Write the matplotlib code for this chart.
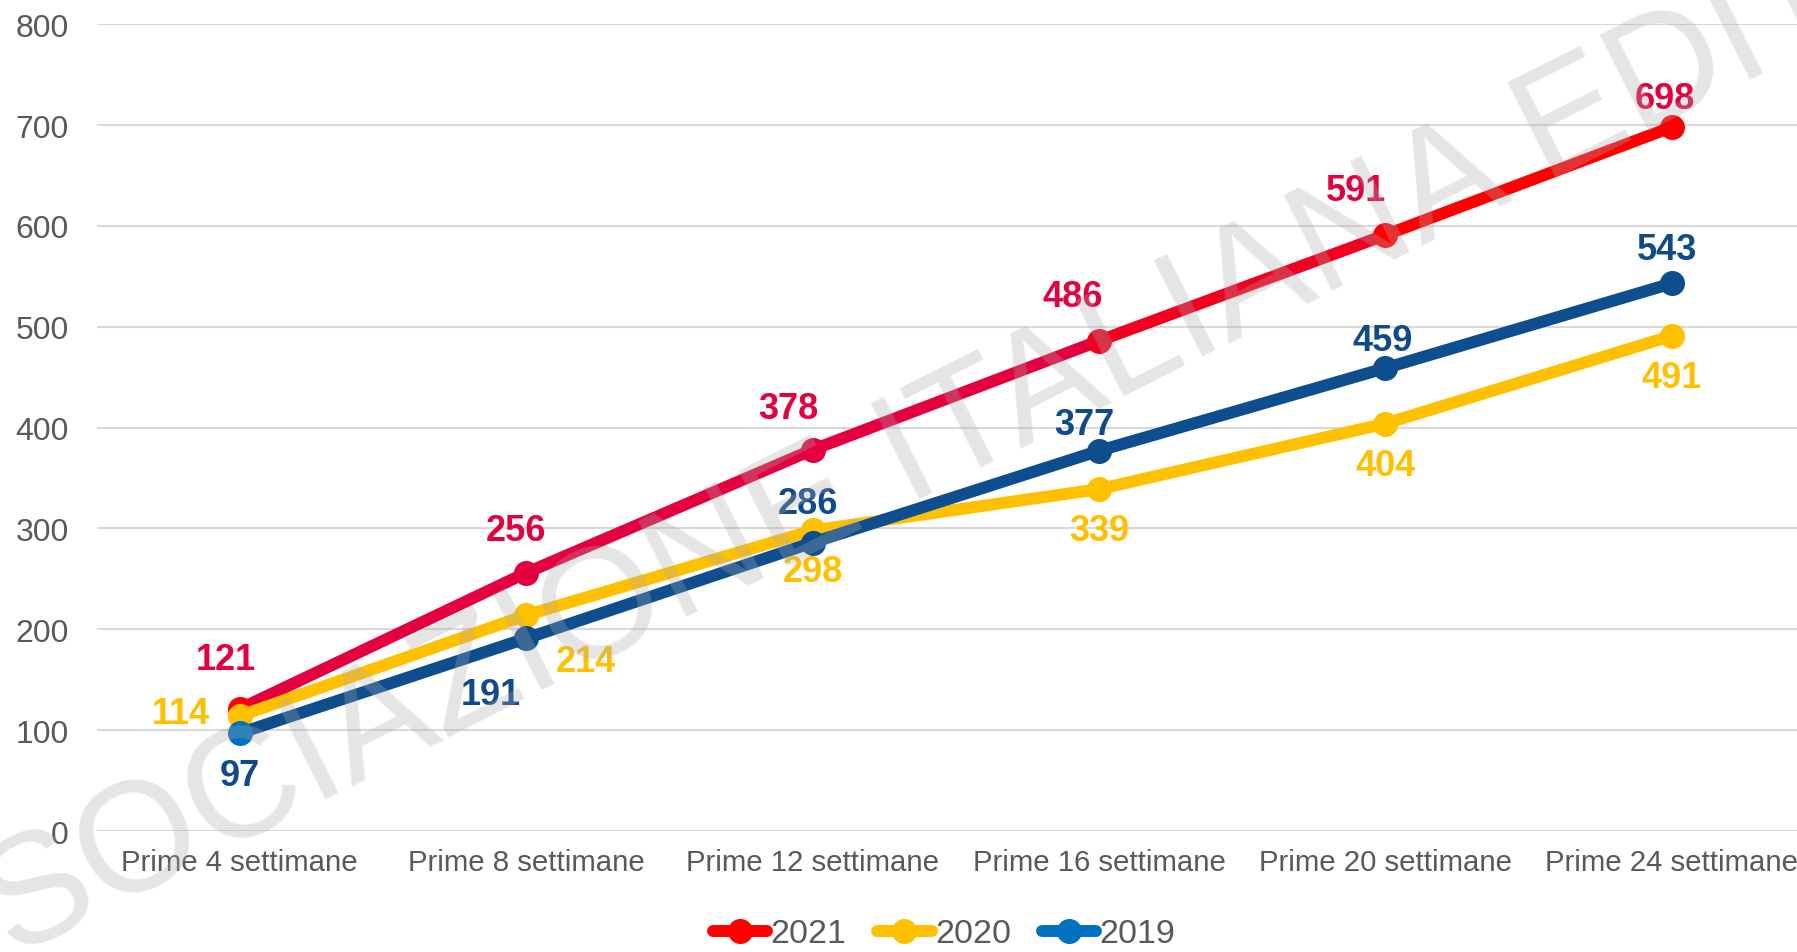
import matplotlib
matplotlib.use("Agg")
import matplotlib.pyplot as plt
from matplotlib.lines import Line2D
import numpy as np

plt.rcParams['font.family'] = ['Liberation Sans', 'DejaVu Sans']

categories = ["Prime 4 settimane", "Prime 8 settimane", "Prime 12 settimane",
              "Prime 16 settimane", "Prime 20 settimane", "Prime 24 settimane"]
series_names = ["2021", "2020", "2019"]
v2021 = [121, 256, 378, 486, 591, 698]
v2020 = [114, 214, 298, 339, 404, 491]
v2019 = [97, 191, 286, 377, 459, 543]

# label offsets (pixels measured on the shrunk reference, dx right, dy up)
off2021 = [(-12, 43), (-9, 37), (-21, 36), (-23, 39), (-26, 39), (-6, 25)]
off2020 = [(-51, 2), (52, -40), (0, -36), (0, -36), (0, -37), (0, -36)]
off2019 = [(0, -37), (-31, -49), (-4, 34), (-13, 23), (-2, 24), (-4, 30)]

# per-segment and per-marker colours (gradient look of the original)
seg2021 = ['#E4003F', '#E4003F', '#E4003F', '#F2001F', '#FF0000']
mk2021 = ['#FF0000', '#E4003F', '#E4003F', '#F0001F', '#FF0000', '#FF0000']
seg2020 = ['#FFC000'] * 5
mk2020 = ['#FFC000'] * 6
seg2019 = ['#0E4D8E'] * 5
mk2019 = ['#0070C0', '#0E4D8E', '#0E4D8E', '#0E4D8E', '#0E4D8E', '#0E4D8E']
lab_colors = ['#E4003F', '#FFC000', '#104A8A']
legend_colors = ['#FF0000', '#FFC000', '#0070C0']

W, H = 1797, 953
S = W / 1568
fig = plt.figure(figsize=(W / 100, H / 100), dpi=100)
ax = fig.add_axes([96.5 / W, 1 - 832 / H, (1815 - 96.5) / W, (832 - 25.2) / H])

x = np.arange(len(categories))
for vals, segs, mks, offs, lc, z in [
        (v2021, seg2021, mk2021, off2021, lab_colors[0], 3),
        (v2020, seg2020, mk2020, off2020, lab_colors[1], 4),
        (v2019, seg2019, mk2019, off2019, lab_colors[2], 5)]:
    for i in range(len(vals) - 1):
        ax.plot(x[i:i + 2], vals[i:i + 2], color=segs[i], lw=8.6,
                solid_capstyle='round', zorder=z)
    for i, v in enumerate(vals):
        ax.plot(x[i], v, 'o', color=mks[i], ms=17, zorder=z + 0.1)
        ax.annotate(str(v), (x[i], v), xytext=(offs[i][0] * S, offs[i][1] * S),
                    textcoords='offset pixels', ha='center', va='center',
                    fontsize=26, fontweight='bold', color=lc, zorder=10)

ax.set_xlim(-0.5, 5.5)
ax.set_ylim(0, 800)
ax.set_yticks(range(0, 801, 100))
ax.set_xticks(x)
ax.set_xticklabels(categories)
ax.tick_params(axis='both', length=0, colors='#595959')
ax.tick_params(axis='x', pad=12, labelsize=21.2)
ax.tick_params(axis='y', pad=20, labelsize=23)
ax.grid(axis='y', color='#D9D9D9', lw=1.5)
ax.set_axisbelow(True)
for sp in ax.spines.values():
    sp.set_visible(False)

handles = [Line2D([0], [0], color=c, lw=8.6, marker='o', ms=17,
                  solid_capstyle='round') for c in legend_colors]
fig.legend(handles, series_names, loc='center', bbox_to_anchor=(944 / W, 1 - 935 / H),
           ncol=3, frameon=False, fontsize=24.5, labelcolor='#595959',
           handlelength=1.6, handletextpad=0.1, columnspacing=0.9)

fig.text(948 / W, 1 - 440 / H, "ASSOCIAZIONE ITALIANA EDITORI", rotation=26.8,
         rotation_mode='anchor', ha='center', va='center', fontsize=112,
         color='#AAAAAA', alpha=0.3, zorder=20)

fig.savefig("out.png", dpi=100)
